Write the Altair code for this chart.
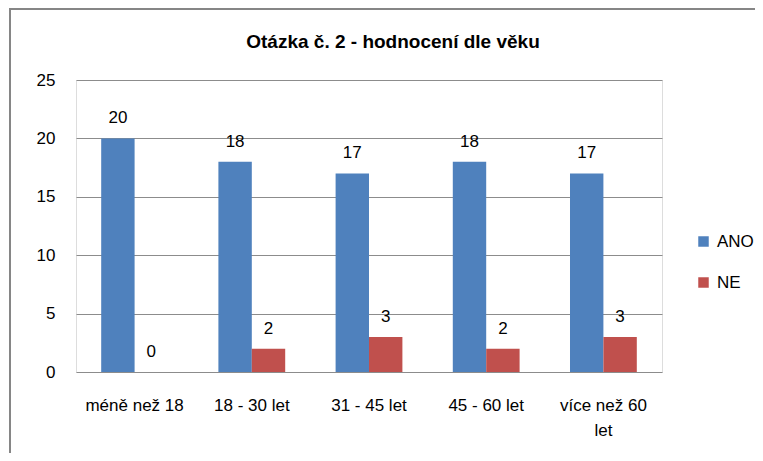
import altair as alt
import pandas as pd

categories = ["méně než 18", "18 - 30 let", "31 - 45 let", "45 - 60 let", "více než 60 let"]
ano = [20, 18, 17, 18, 17]
ne = [0, 2, 3, 2, 3]
series = ["ANO", "NE"]
colors = ["#4F81BD", "#C0504D"]
title_text = "Otázka č. 2 - hodnocení dle věku"

rows = []
for c, a, n in zip(categories, ano, ne):
    rows.append({"kat": c, "serie": "ANO", "hodnota": a})
    rows.append({"kat": c, "serie": "NE", "hodnota": n})
df = pd.DataFrame(rows)

FONT = "Liberation Sans"
FS = 17

x = alt.X("kat:N", sort=categories, title=None,
          scale=alt.Scale(paddingInner=0.43, paddingOuter=0.215),
          axis=alt.Axis(labelAngle=0, labelFontSize=FS, labelColor="#000000",
                        labelFont=FONT, labelPadding=25, domain=False, ticks=False,
                        labelLimit=200, labelLineHeight=25,
                        labelExpr="datum.label == 'více než 60 let' ? ['více než 60', 'let'] : datum.label"))
y = alt.Y("hodnota:Q", title=None,
          scale=alt.Scale(domain=[0, 25], nice=False),
          axis=alt.Axis(values=[0, 5, 10, 15, 20, 25], labelFontSize=FS, labelColor="#000000",
                        labelFont=FONT, labelPadding=21, domain=False, ticks=False,
                        grid=True, gridColor="#8c8c8c", gridWidth=1))
xo = alt.XOffset("serie:N", sort=series, scale=alt.Scale(paddingInner=0, paddingOuter=0))
color = alt.Color("serie:N", sort=series, scale=alt.Scale(domain=series, range=colors),
                  legend=alt.Legend(title=None, orient="none", legendX=619, legendY=153,
                                    symbolType="square", symbolSize=110, symbolStrokeWidth=0,
                                    labelFontSize=FS, labelFont=FONT, labelColor="#000000",
                                    rowPadding=23, labelOffset=5))

bars = alt.Chart(df).mark_bar().encode(x=x, xOffset=xo, y=y, color=color)
labels = alt.Chart(df).mark_text(baseline="bottom", dy=-11, fontSize=FS, font=FONT,
                                 color="#000000").encode(
    x=alt.X("kat:N", sort=categories), xOffset=xo, y="hodnota:Q", text="hodnota:Q")

one = pd.DataFrame({"t": [title_text]})
frame = alt.Chart(one).mark_rect(
    fill=None, stroke="#868686", strokeWidth=2).encode(
    x=alt.value(-66), x2=alt.value(720), y=alt.value(-71), y2=alt.value(420))
title = alt.Chart(one).mark_text(fontSize=19, fontWeight="bold", font=FONT,
                                 color="#000000", align="center", baseline="middle").encode(
    x=alt.value(317), y=alt.value(-38), text="t:N")

chart = alt.layer(frame, title, bars, labels).properties(
    width=586, height=292,
    autosize=alt.AutoSizeParams(type="none"),
    padding={"left": 68, "top": 72, "right": 93, "bottom": 81},
).configure_view(stroke=None).configure(background="white")

chart.save("out.html", embed_options={"renderer": "svg", "actions": False})
